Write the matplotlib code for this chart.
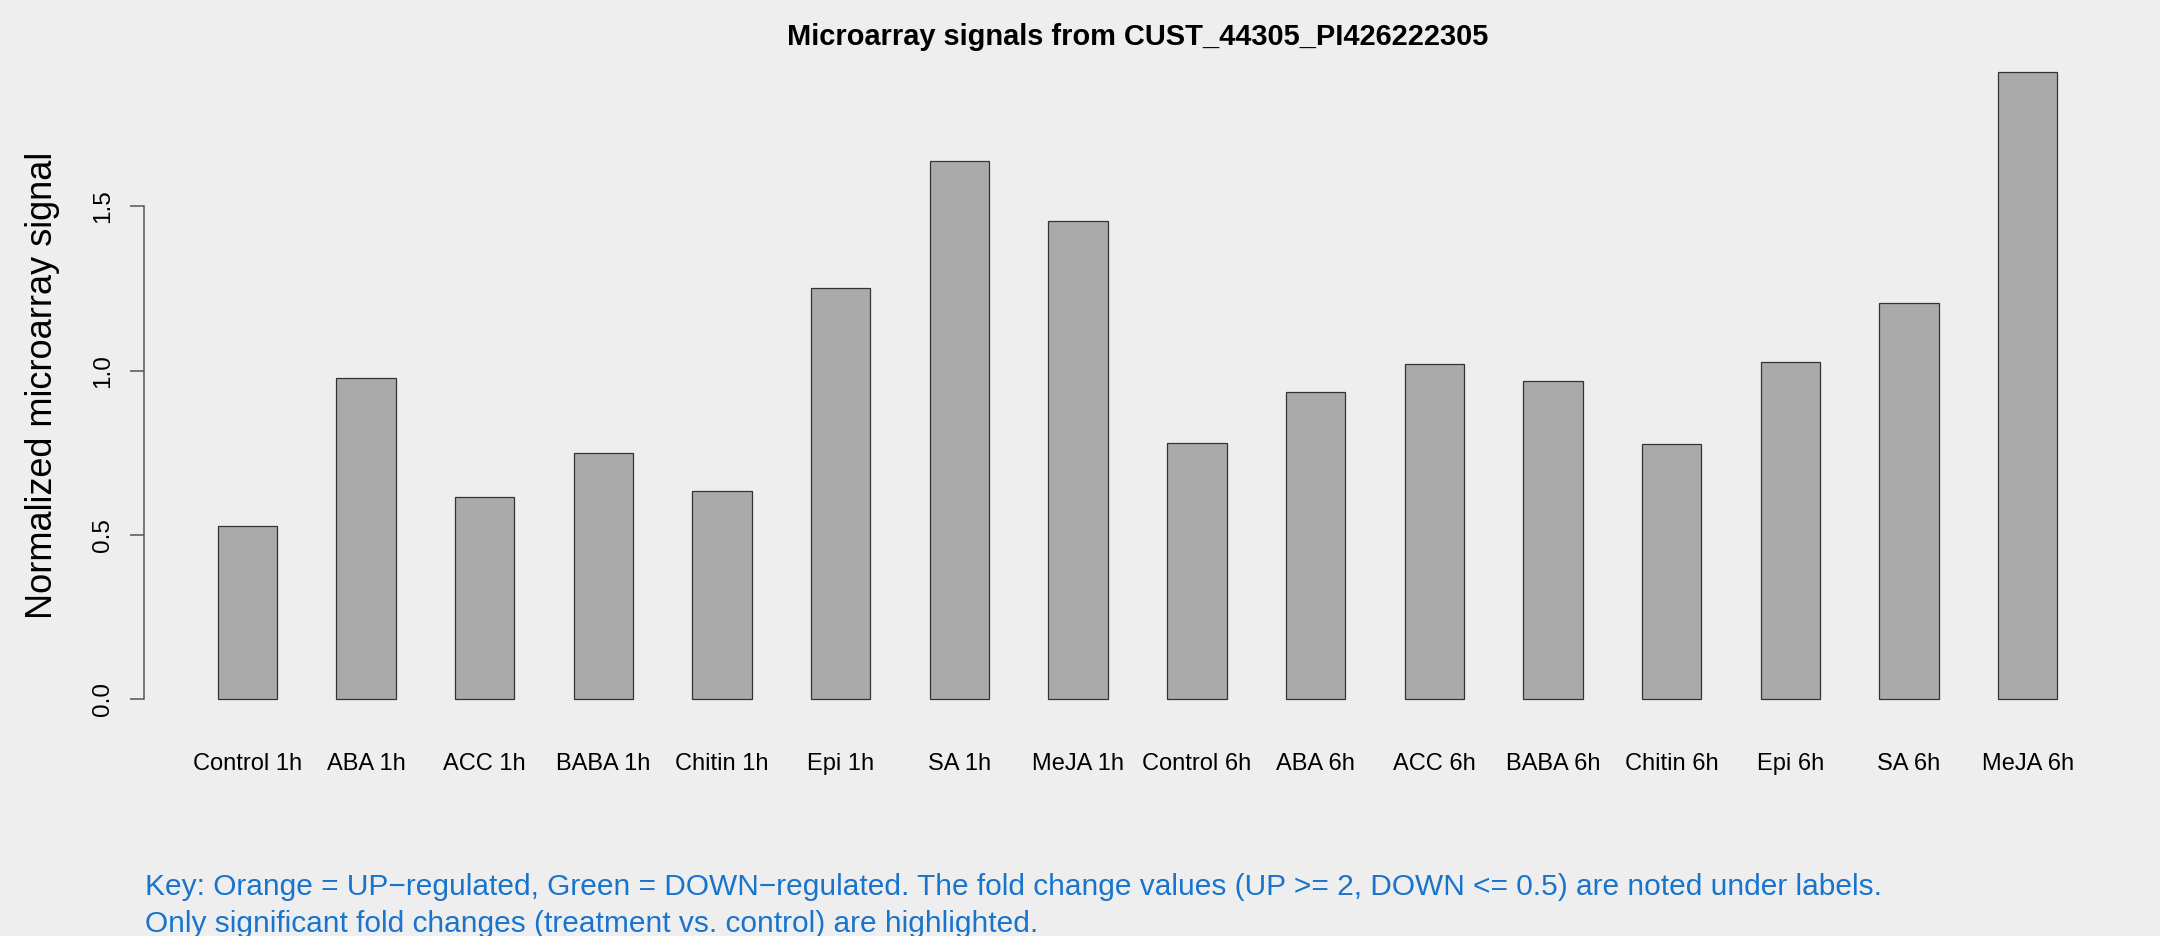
import numpy as np
import matplotlib.pyplot as plt

plt.rcParams['font.family'] = ['Liberation Sans', 'DejaVu Sans']

# data
samples = ['Control 1h', 'ABA 1h', 'ACC 1h', 'BABA 1h', 'Chitin 1h', 'Epi 1h', 'SA 1h', 'MeJA 1h',
           'Control 6h', 'ABA 6h', 'ACC 6h', 'BABA 6h', 'Chitin 6h', 'Epi 6h', 'SA 6h', 'MeJA 6h']
signal = [0.527, 0.978, 0.616, 0.748, 0.634, 1.252, 1.638, 1.457,
          0.781, 0.936, 1.021, 0.967, 0.778, 1.025, 1.206, 1.911]
yticks = [0.0, 0.5, 1.0, 1.5]
ytick_labels = ['0.0', '0.5', '1.0', '1.5']

title = 'Microarray signals from CUST_44305_PI426222305'
ylabel = 'Normalized microarray signal'
key_lines = ['Key: Orange = UP\u2212regulated, Green = DOWN\u2212regulated. The fold change values '
             '(UP >= 2, DOWN <= 0.5) are noted under labels.',
             'Only significant fold changes (treatment vs. control) are highlighted.']

W, H = 2160, 936
bg = '#eeeeee'
fig = plt.figure(figsize=(W / 100, H / 100), dpi=100, facecolor=bg)
# plot region in pixels: left 144, right 2131, top 46, bottom 724
ax = fig.add_axes([144 / W, 1 - 724.1 / H, (2131 - 144) / W, (724.1 - 46.4) / H])
ax.set_facecolor(bg)

# R barplot style: width 1, space 1
x = np.arange(len(samples)) * 2 + 1.5
ax.bar(x, signal, width=1.0, color='#aaaaaa', edgecolor='#333333', linewidth=0.9)
ax.set_xlim(-0.24, 33.24)
ymax = max(signal)
ax.set_ylim(-0.04 * ymax, 1.04 * ymax)

for s in ['top', 'right', 'bottom']:
    ax.spines[s].set_visible(False)
ax.spines['left'].set_bounds(yticks[0], yticks[-1])
ax.spines['left'].set_color('#555555')
ax.spines['left'].set_linewidth(1.1)

ax.set_yticks(yticks)
ax.set_yticklabels(ytick_labels, rotation=90, va='center', fontsize=17.5)
ax.tick_params(axis='y', length=10.4, width=1.1, color='#555555', pad=11)

ax.set_xticks(x)
ax.set_xticklabels(samples, fontsize=17)
ax.tick_params(axis='x', length=0, pad=21)

ax.set_ylabel(ylabel, fontsize=26)
ax.yaxis.set_label_coords((60.5 - 144) / (2131 - 144), 0.5)

# fixed y so matplotlib does not shift the title on its own
ax.set_title(title, fontsize=20.9, fontweight='bold', y=1.0, pad=1)

fig.text(145 / W, 1 - 895 / H, key_lines[0], color='#1874cd', fontsize=21.5, va='baseline')
fig.text(145 / W, 1 - 931.7 / H, key_lines[1], color='#1874cd', fontsize=21.5, va='baseline')

plt.savefig('out.png', dpi=100, facecolor=bg)
